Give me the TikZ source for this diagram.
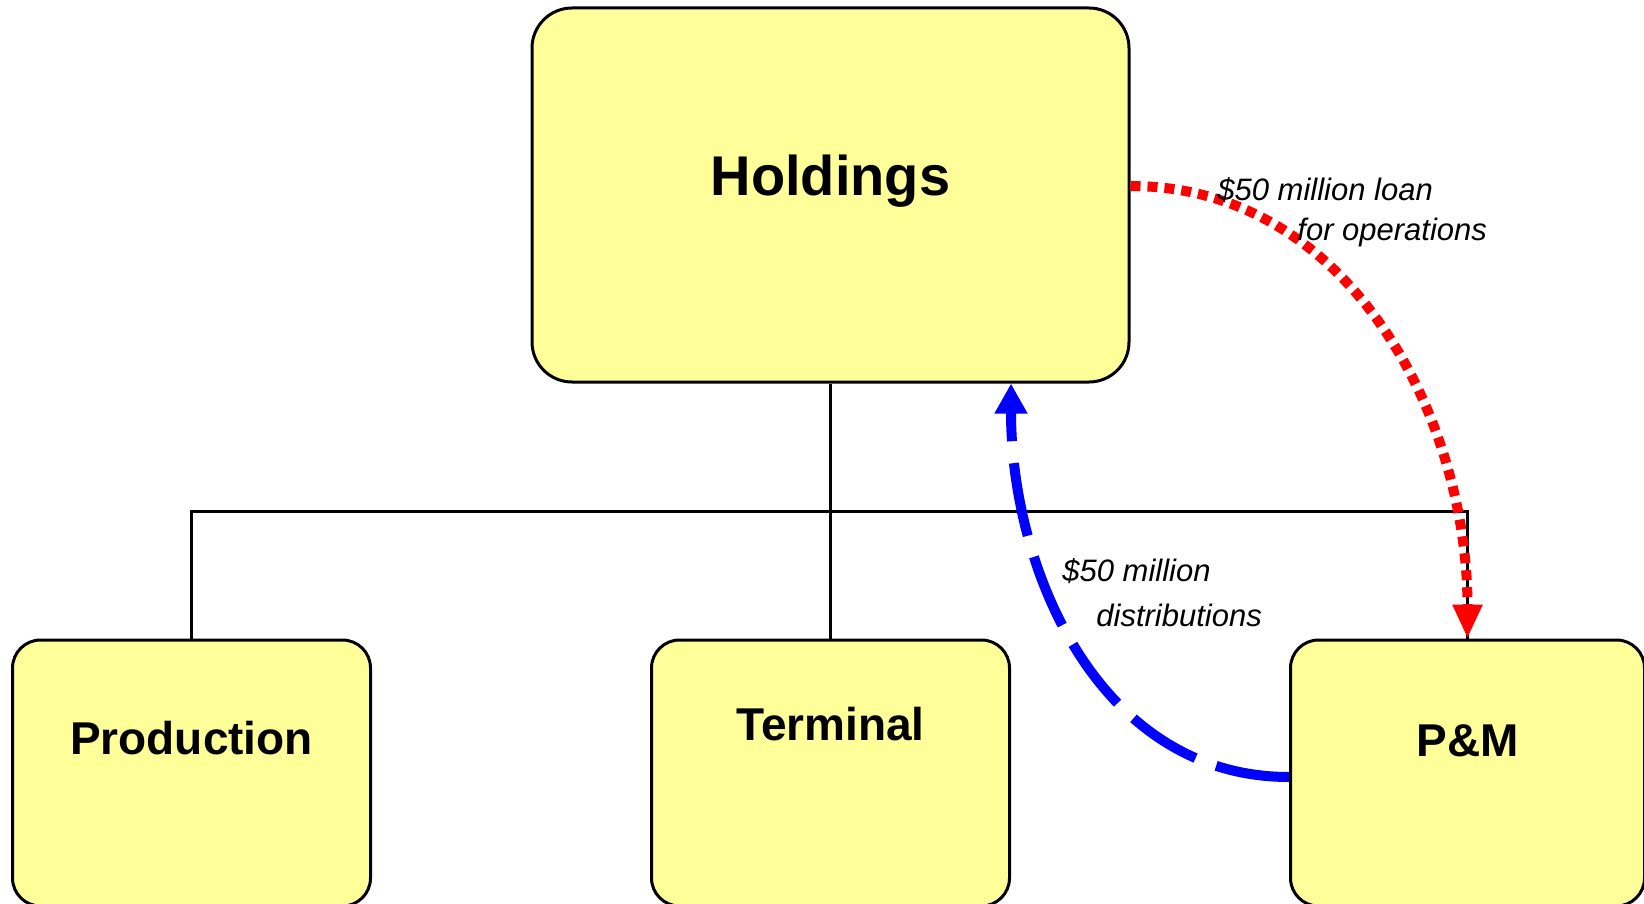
\documentclass[tikz,border=0pt]{standalone}
\usepackage{fontspec}
\setmainfont{Liberation Sans}
\usetikzlibrary{positioning,arrows.meta}
\definecolor{boxyellow}{HTML}{FFFF99}
\tikzset{
  firm/.style={rectangle, rounded corners=14pt, minimum width=179pt, inner sep=0pt, text height=57pt, text depth=76pt, draw=black, line width=1.5pt, fill=boxyellow, font=\bfseries\fontsize{23}{28}\selectfont},
  holdco/.style={firm, rounded corners=20pt, minimum width=298.5pt, text height=93.5pt, text depth=93.5pt, font=\bfseries\fontsize{28}{34}\selectfont},
  tie/.style={draw=black, line width=1.5pt},
  loan/.style={draw=red, line width=5pt, dash pattern=on 5pt off 3.5pt, -{Triangle[length=17pt,width=14pt]}},
  dist/.style={draw=blue, line width=5pt, dash pattern=on 37pt off 11pt, -{Triangle[length=15pt,width=15.5pt]}},
  flowtext/.style={align=left, anchor=base west, inner sep=0pt, font=\itshape\fontsize{15.5}{20}\selectfont},
  node distance=127.5pt and 139pt
}

\begin{document}
\begin{tikzpicture}[x=0.5pt, y=-0.5pt]
	\useasboundingbox (0,0) rectangle (1644,904);
	\node[holdco] (hold) at (830.5,195) {Holdings};
	\node[firm, below=of hold, text height=50pt, text depth=83pt] (term) {Terminal};
	\node[firm, left=of term] (prod) {Production};
	\node[firm, right=of term, minimum width=177pt, text height=58pt, text depth=75pt] (pm) {P\&M};
	%
	\path (hold.south) -- (term.north) coordinate[midway] (bus);
	\draw[tie] (hold.south) -- (term.north);
	\draw[tie] (prod.north) |- (bus) -| (pm.north);
	%
	\draw[loan] ([yshift=4.5pt]hold.east) to[out=0, in=90] (pm.north);
	\draw[dist] ([yshift=-2pt]pm.west) to[out=180, in=-90] (hold.south -| term.east);
	%
	\node[flowtext] (loantext) at (1217,240) {\$50 million loan\\\hspace*{40pt}for operations};
	\node[flowtext, font=\itshape\fontsize{15.5}{22.5}\selectfont] (disttext) at (1062,626) {\$50 million\\\hspace*{17pt}distributions};
\end{tikzpicture}
\end{document}
